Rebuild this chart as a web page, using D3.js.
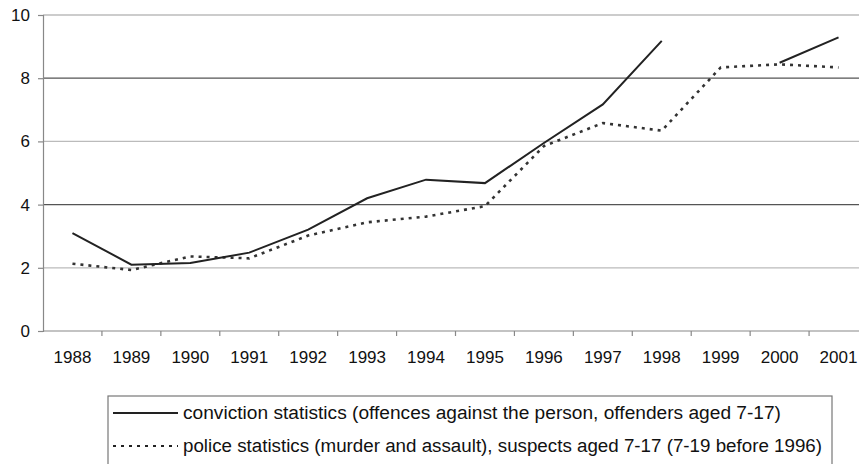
<!DOCTYPE html>
<html>
<head>
<meta charset="utf-8">
<script src="https://cdn.jsdelivr.net/npm/d3@7"></script>
<style>
  body { margin: 0; background: #fff; }
  text { font-family: "Liberation Sans", Arial, sans-serif; fill: #111; }
</style>
</head>
<body>
<div id="wrapper"></div>
<script>
const years = [1988, 1989, 1990, 1991, 1992, 1993, 1994, 1995, 1996, 1997, 1998, 1999, 2000, 2001];
const conviction = [3.1, 2.1, 2.15, 2.48, 3.21, 4.2, 4.79, 4.68, 5.95, 7.17, 9.18, null, 8.49, 9.29];
const police = [2.13, 1.93, 2.36, 2.3, 3.02, 3.44, 3.62, 3.95, 5.85, 6.58, 6.34, 8.34, 8.44, 8.34];
const yTicks = [0, 2, 4, 6, 8, 10];
const legendLabels = [
  "conviction statistics (offences against the person, offenders aged 7-17)",
  "police statistics (murder and assault), suspects aged 7-17 (7-19 before 1996)",
];

function buildChart() {
  const dimensions = { width: 859, height: 464 };
  const svg = d3.select("#wrapper").append("svg")
    .attr("width", dimensions.width)
    .attr("height", dimensions.height);

  const left = 43, right = 868, top = 15, bottom = 331;

  const x = d3.scaleBand().domain(years).range([left, right]);
  const y = d3.scaleLinear().domain([0, 10]).range([bottom, top]);

  // gridlines (alternating shade as in the print)
  const gridColor = { 2: "#bbb", 4: "#555", 6: "#bbb", 8: "#555", 10: "#999" };
  svg.append("g")
    .selectAll("line")
    .data(yTicks.filter(d => d > 0))
    .join("line")
    .attr("x1", left).attr("x2", right)
    .attr("y1", d => y(d)).attr("y2", d => y(d))
    .attr("stroke", d => gridColor[d])
    .attr("stroke-width", 1.2);

  // y axis
  const yAxis = svg.append("g")
    .attr("transform", `translate(${left},0)`)
    .call(d3.axisLeft(y).tickValues(yTicks).tickSize(5).tickPadding(8));
  yAxis.select(".domain").attr("stroke", "#888").attr("stroke-width", 1.2);
  yAxis.selectAll(".tick line").attr("stroke", "#888").attr("stroke-width", 1.2);
  yAxis.selectAll("text").attr("font-size", 17).attr("font-family", "Liberation Sans, Arial, sans-serif").attr("fill", "#111");

  // x axis: ticks between categories
  const xAxisG = svg.append("g").attr("transform", `translate(0,${bottom})`);
  xAxisG.append("line")
    .attr("x1", left).attr("x2", right)
    .attr("stroke", "#888").attr("stroke-width", 1.2);
  xAxisG.selectAll(".xt")
    .data(years)
    .join("line")
    .attr("class", "xt")
    .attr("x1", d => x(d) + x.bandwidth()).attr("x2", d => x(d) + x.bandwidth())
    .attr("y1", 0).attr("y2", 5)
    .attr("stroke", "#888").attr("stroke-width", 1.2);
  xAxisG.selectAll("text")
    .data(years)
    .join("text")
    .attr("x", d => x(d) + x.bandwidth() / 2)
    .attr("y", 32)
    .attr("text-anchor", "middle")
    .attr("font-size", 17)
    .text(d => d);

  const cx = d => x(d) + x.bandwidth() / 2;

  const line = d3.line()
    .defined(d => d.v !== null)
    .x(d => cx(d.year))
    .y(d => y(d.v));

  svg.append("path")
    .datum(years.map((year, i) => ({ year, v: police[i] })))
    .attr("fill", "none")
    .attr("stroke", "#333")
    .attr("stroke-width", 2.6)
    .attr("stroke-dasharray", "3,5")
    .attr("d", line);

  svg.append("path")
    .datum(years.map((year, i) => ({ year, v: conviction[i] })))
    .attr("fill", "none")
    .attr("stroke", "#222")
    .attr("stroke-width", 2)
    .attr("d", line);

  // legend
  const legend = svg.append("g");
  legend.append("rect")
    .attr("x", 108).attr("y", 396)
    .attr("width", 724).attr("height", 90)
    .attr("fill", "#fff")
    .attr("stroke", "#777")
    .attr("stroke-width", 1.2);

  const rows = legend.selectAll(".row")
    .data(legendLabels)
    .join("g")
    .attr("class", "row")
    .attr("transform", (d, i) => `translate(0,${413 + i * 33})`);

  rows.append("line")
    .attr("x1", 113).attr("x2", 178)
    .attr("stroke", "#222")
    .attr("stroke-width", 2)
    .attr("stroke-dasharray", (d, i) => i === 0 ? null : "3,5");

  // the print's legend text runs wider than plain Arial at this height
  const textWidths = [598, 639];
  rows.append("text")
    .attr("x", 183)
    .attr("dy", "0.35em")
    .attr("font-size", 18)
    .attr("textLength", (d, i) => textWidths[i])
    .attr("lengthAdjust", "spacingAndGlyphs")
    .text(d => d);
}

buildChart();
</script>
</body>
</html>
